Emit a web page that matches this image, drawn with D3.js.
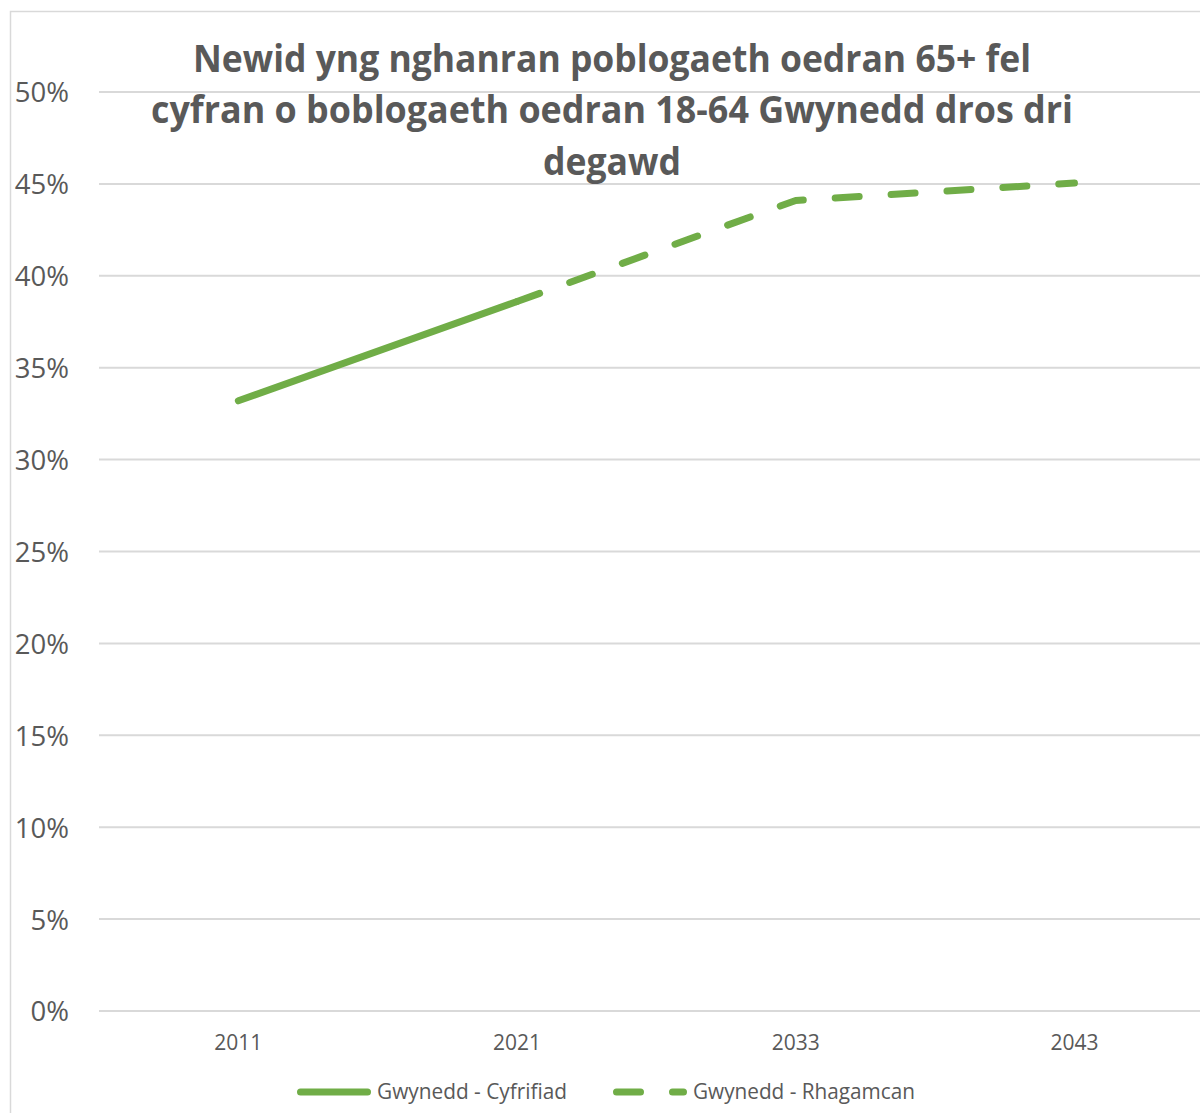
<!DOCTYPE html>
<html><head><meta charset="utf-8">
<script src="https://cdn.jsdelivr.net/npm/d3@7"></script>
<style>body{margin:0;background:#fff}svg{display:block}</style>
</head><body>
<svg id="c" width="1200" height="1113"></svg>
<script>
const years = ["2011","2021","2033","2043"];
const censusValues = [0.332, 0.386, null, null];
const projectionValues = [null, 0.386, 0.441, 0.4505];
const yTicks = [0,0.05,0.10,0.15,0.20,0.25,0.30,0.35,0.40,0.45,0.50];
const titleLines = ["Newid yng nghanran poblogaeth oedran 65+ fel","cyfran o boblogaeth oedran 18-64 Gwynedd dros dri","degawd"];
const seriesNames = ["Gwynedd - Cyfrifiad","Gwynedd - Rhagamcan"];

const svg = d3.select("#c");
const grey = "#595959", green = "#70AD47", gridC = "#D9D9D9";
const font = "'Open Sans', sans-serif";

// chart border
svg.append("rect").attr("x",10.5).attr("y",11.5).attr("width",1250).attr("height",1200)
  .attr("fill","none").attr("stroke",gridC).attr("stroke-width",1.5);

const x = d3.scaleBand().domain(years).range([99, 99+4*278.7]);
const y = d3.scaleLinear().domain([0,0.5]).range([1011, 92]);

// gridlines
svg.append("g").selectAll("line").data(yTicks).join("line")
  .attr("x1",99).attr("x2",1200).attr("y1",d=>y(d)).attr("y2",d=>y(d))
  .attr("stroke",gridC).attr("stroke-width",2);

// y axis
const yAxis = d3.axisLeft(y).tickValues(yTicks).tickFormat(d3.format(".0%")).tickSize(0).tickPadding(0);
const ya = svg.append("g").attr("transform","translate(69,0)").call(yAxis);
ya.select(".domain").remove();
ya.selectAll("text").attr("fill",grey).attr("font-family",font).attr("font-size",27.5).attr("dy","0.36em");

// x axis
const xAxis = d3.axisBottom(x).tickSize(0).tickPadding(0);
const xa = svg.append("g").attr("transform","translate(0,1050)").call(xAxis);
xa.select(".domain").remove();
xa.selectAll("text").attr("fill",grey).attr("font-family",font).attr("font-size",21).attr("dy",0);

// lines
const line = d3.line().defined(d=>d.v!=null).x(d=>x(d.k)+x.bandwidth()/2).y(d=>y(d.v));
svg.append("path").datum(years.map((k,i)=>({k,v:censusValues[i]})))
  .attr("d",line).attr("fill","none").attr("stroke",green).attr("stroke-width",7).attr("stroke-linecap","round");
svg.append("path").datum(years.map((k,i)=>({k,v:projectionValues[i]})))
  .attr("d",line).attr("fill","none").attr("stroke",green).attr("stroke-width",7).attr("stroke-linecap","round")
  .attr("stroke-linejoin","round").attr("stroke-dasharray","24,32");

// title
const widths = [838, 922, 138];
const baselines = [72, 123, 175];
svg.append("g").selectAll("text").data(titleLines).join("text")
  .attr("x",612).attr("y",(d,i)=>baselines[i]).attr("text-anchor","middle")
  .attr("font-family",font).attr("font-weight","bold").attr("font-size",37).attr("fill",grey)
  .attr("textLength",(d,i)=>widths[i]).attr("lengthAdjust","spacingAndGlyphs")
  .text(d=>d);

// legend
const lg = svg.append("g");
lg.append("line").attr("x1",300.5).attr("x2",367.5).attr("y1",1092).attr("y2",1092)
  .attr("stroke",green).attr("stroke-width",7).attr("stroke-linecap","round");
lg.append("text").attr("x",377).attr("y",1092).attr("dy","0.35em").attr("font-family",font)
  .attr("font-size",21).attr("fill",grey).attr("textLength",190).attr("lengthAdjust","spacingAndGlyphs").text(seriesNames[0]);
lg.append("line").attr("x1",616.5).attr("x2",683.5).attr("y1",1092).attr("y2",1092)
  .attr("stroke",green).attr("stroke-width",7).attr("stroke-linecap","round").attr("stroke-dasharray","24,32");
lg.append("text").attr("x",693).attr("y",1092).attr("dy","0.35em").attr("font-family",font)
  .attr("font-size",21).attr("fill",grey).attr("textLength",222).attr("lengthAdjust","spacingAndGlyphs").text(seriesNames[1]);
</script>
</body></html>
